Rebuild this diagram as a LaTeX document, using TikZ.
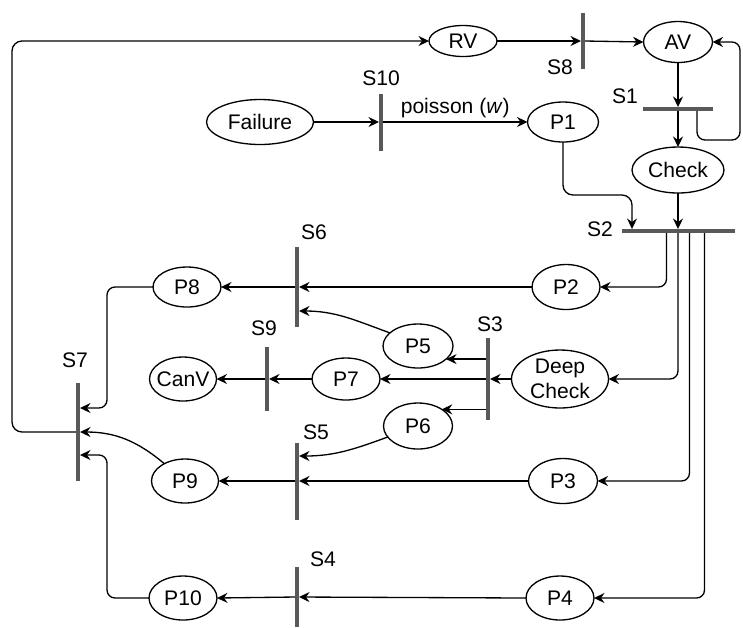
\documentclass[tikz,border=0pt]{standalone}
\usepackage{fontspec}
\setmainfont{Liberation Sans}
\usetikzlibrary{arrows.meta, shapes.geometric}

\begin{document}
\begin{tikzpicture}[
    x=0.02cm, y=-0.02cm,
    place/.style={ellipse, draw, line width=0.75pt, inner sep=0pt, outer sep=0pt,
                  minimum width=1.36cm, minimum height=0.88cm,
                  font=\fontsize{12}{14}\selectfont, align=center},
    vbar/.style={fill=black!65, inner sep=0pt, outer sep=0pt, minimum width=0.08cm},
    hbar/.style={fill=black!65, inner sep=0pt, outer sep=0pt, minimum height=0.08cm},
    lbl/.style={font=\fontsize{12}{14}\selectfont, inner sep=1pt},
    arr/.style={-{Stealth[length=0.21cm, width=0.2cm, inset=0.07cm]}, line width=0.75pt}
  ]
    \useasboundingbox (0,0) rectangle (743,627);

    % places
    \node[place, minimum height=0.62cm]                       (RV)        at (463,41)  {RV};
    \node[place, minimum width=1.38cm, minimum height=0.82cm] (AV)        at (678,42)  {AV};
    \node[place, minimum width=1.84cm, minimum height=0.92cm] (Check)     at (678,170) {Check};
    \node[place, minimum width=2.14cm, minimum height=0.9cm]  (Failure)   at (260,122) {Failure};
    \node[place, minimum width=1.42cm, minimum height=0.8cm]  (P1)        at (563,122) {P1};
    \node[place, minimum height=0.9cm]                        (P2)        at (566,287) {P2};
    \node[place, minimum height=0.8cm]                        (P8)        at (187,287) {P8};
    \node[place, minimum width=1.4cm]                         (P5)        at (418,346) {P5};
    \node[place, minimum width=1.94cm, minimum height=1.16cm,
          inner ysep=-2pt]                                    (DeepCheck) at (560,379) {Deep\\Check};
    \node[place, minimum height=0.84cm]                       (P7)        at (346,379) {P7};
    \node[place, minimum width=1.34cm, inner xsep=-3pt]       (CanV)      at (183,379) {CanV};
    \node[place, minimum width=1.38cm, minimum height=0.92cm] (P6)        at (418,426) {P6};
    \node[place, minimum width=1.38cm, minimum height=0.9cm]  (P3)        at (563,481) {P3};
    \node[place, minimum width=1.34cm]                        (P9)        at (185,481) {P9};
    \node[place]                                              (P4)        at (560,598) {P4};
    \node[place]                                              (P10)       at (183,598) {P10};

    % transitions
    \node[vbar, minimum height=1.12cm] (S8)  at (583,41)  {};
    \node[hbar, minimum width=1.4cm]   (S1)  at (678,109) {};
    \node[vbar, minimum height=1.14cm] (S10) at (381,122) {};
    \node[hbar, minimum width=2.26cm]  (S2)  at (678,231) {};
    \node[vbar, minimum height=1.6cm]  (S6)  at (297,287) {};
    \node[vbar, minimum height=1.64cm] (S3)  at (488,379) {};
    \node[vbar, minimum height=1.28cm] (S9)  at (267,379) {};
    \node[vbar, minimum height=1.54cm] (S5)  at (297,481) {};
    \node[vbar, minimum height=1.96cm] (S7)  at (78,432)  {};
    \node[vbar, minimum height=1.2cm]  (S4)  at (297,597) {};

    \node[lbl] (lS8)  at (560,67)  {S8};
    \node[lbl] (lS1)  at (625,96)  {S1};
    \node[lbl] (lS10) at (381,78)  {S10};
    \node[lbl] (lS2)  at (600,229) {S2};
    \node[lbl] (lS6)  at (314,232) {S6};
    \node[lbl] (lS3)  at (490,324) {S3};
    \node[lbl] (lS9)  at (264,328) {S9};
    \node[lbl] (lS5)  at (316,432) {S5};
    \node[lbl] (lS7)  at (75,360)  {S7};
    \node[lbl] (lS4)  at (323,559) {S4};

    \coordinate (railL)  at (12,41);
    \coordinate (loopR)  at (740,140);
    \coordinate (P1bend) at (632,195);
    \coordinate (s7top)  at (107,408);
    \coordinate (s7bot)  at (107,455);

    % top row
    \draw[arr, rounded corners=0.2cm] (S7.west) -| (railL) -- (RV.west);
    \draw[arr] (RV.east) -- (S8.west);
    \draw[arr] (S8.east) -- (AV.west);
    \draw[arr] (AV.south) -- (S1.north);
    \draw[arr] (S1.south) -- (Check.north);
    \draw[arr, rounded corners=0.16cm] ([xshift=0.38cm]S1.south) |- (loopR) |- (AV.east);
    \draw[arr] (Failure.east) -- (S10.west);
    \draw[arr] (S10.east) -- node[lbl, above=1pt] (poisson) {poisson (\textit{w})} (P1.west);
    \draw[arr, rounded corners=0.2cm] (P1.south) |- (P1bend) -- (P1bend |- S2.north);
    \draw[arr] (Check.south) -- (S2.north);

    % outputs of S2
    \draw[arr, rounded corners=0.16cm] ([xshift=-0.23cm]S2.south) |- (P2.east);
    \draw[arr, rounded corners=0.16cm] (S2.south) |- (DeepCheck.east);
    \draw[arr, rounded corners=0.16cm] ([xshift=0.23cm]S2.south) |- (P3.east);
    \draw[arr, rounded corners=0.16cm] ([xshift=0.53cm]S2.south) |- (P4.east);

    % middle
    \draw[arr] (P2.west) -- (S6.east);
    \draw[arr] (S6.west) -- (P8.east);
    \draw[arr] (P5.155) to[out=160, in=0] ([yshift=-0.48cm]S6.east);
    \draw[arr] (DeepCheck.west) -- (S3.east);
    \draw[arr] (P5.-25 -| S3.west) -- (P5.-25);
    \draw[arr] (S3.west) -- (P7.east);
    \draw[arr] (P6.35 -| S3.west) -- (P6.35);
    \draw[arr] (P7.west) -- (S9.east);
    \draw[arr] (S9.west) -- (CanV.east);
    \draw[arr] (P6.200) to[out=200, in=0] ([yshift=0.5cm]S5.east);
    \draw[arr] (P3.west) -- (S5.east);
    \draw[arr] (S5.west) -- (P9.east);
    \draw[arr] (P4.west) -- (S4.east);
    \draw[arr] (S4.west) -- (P10.east);

    % into S7
    \draw[arr, rounded corners=0.16cm] (P8.west) -| (s7top) -- (s7top -| S7.east);
    \draw[arr] (P9.140) to[out=140, in=0] (S7.east);
    \draw[arr, rounded corners=0.16cm] (P10.west) -| (s7bot) -- (s7bot -| S7.east);
\end{tikzpicture}
\end{document}
